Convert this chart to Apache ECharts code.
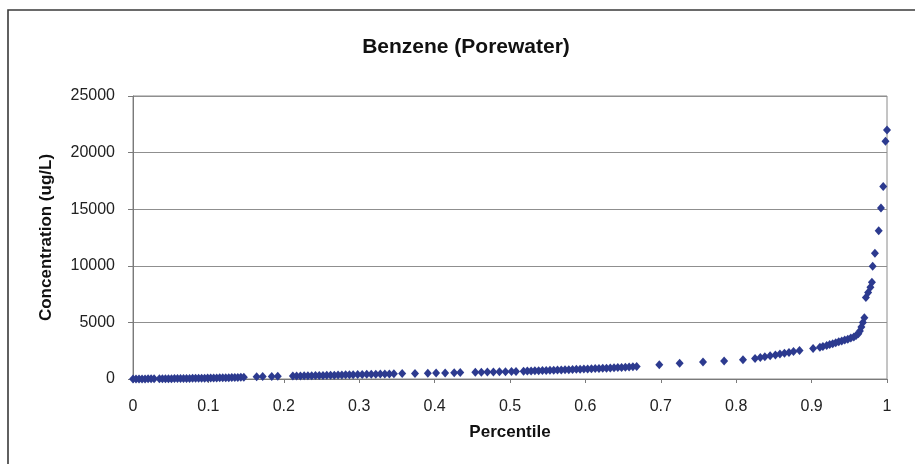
<!DOCTYPE html>
<html>
<head>
<meta charset="utf-8">
<script src="https://cdn.jsdelivr.net/npm/echarts@6/dist/echarts.min.js"></script>
<style>
  html, body { margin: 0; padding: 0; background: #ffffff; }
  #chart { width: 915px; height: 464px; }
</style>
</head>
<body>
<div id="chart"></div>
<script>
const chartTitle = "Benzene (Porewater)";
const xAxisTitle = "Percentile";
const yAxisTitle = "Concentration (ug/L)";

const percentiles = [
  0.000,0.004,0.008,0.012,0.016,0.020,0.024,0.028,0.035,0.039,0.043,0.047,0.051,0.055,0.059,0.063,0.067,0.071,0.075,0.079,0.083,0.087,0.091,0.095,0.099,0.103,0.107,0.111,0.115,0.119,0.123,0.127,0.131,0.135,0.139,0.143,0.147,
  0.164,0.172,0.184,0.192,
  0.212,0.217,0.222,0.227,0.232,0.237,0.242,0.247,0.252,0.257,0.262,0.267,0.272,0.277,0.282,0.287,0.292,
  0.298,0.304,0.310,0.316,0.322,0.328,0.334,0.340,0.346,
  0.357,0.374,
  0.391,0.402,0.414,0.426,0.434,
  0.454,0.462,0.470,0.478,0.486,0.494,0.502,0.508,
  0.518,0.523,0.528,0.533,0.538,0.543,0.548,0.553,0.558,0.563,0.568,0.573,0.578,0.583,0.588,0.593,0.598,0.603,0.608,0.613,0.618,0.623,0.628,0.633,0.638,0.643,0.648,0.653,0.658,0.663,0.668,
  0.698,0.725,0.756,0.784,0.809,
  0.825,0.832,0.838,0.845,0.852,0.858,0.864,0.870,0.876,0.884,
  0.902,
  0.911,0.915,0.920,0.924,0.928,0.932,0.936,0.940,0.944,0.948,0.952,0.956,0.959,0.962,0.964,0.966,
  0.968,0.970,0.972,0.975,0.978,0.980,0.981,0.984,0.989,0.992,0.995,0.998,1.000
];

const concentrations = [
  2,3,5,8,10,12,14,16,20,22,25,28,30,34,38,40,45,48,52,56,60,65,70,75,80,85,90,95,100,106,112,118,125,132,140,150,165,
  200,210,225,235,
  255,262,270,278,285,292,300,310,318,326,335,342,350,360,368,376,385,
  395,402,410,420,428,436,445,452,460,
  475,495,
  515,525,540,555,565,
  590,600,612,625,638,650,662,672,
  690,700,712,722,735,745,757,768,780,792,805,815,828,840,852,865,878,890,905,918,932,945,960,975,990,1005,1020,1040,1060,1085,1110,
  1250,1400,1500,1600,1700,
  1820,1900,1970,2050,2120,2200,2280,2350,2430,2520,
  2700,
  2800,2880,2960,3040,3120,3200,3280,3360,3440,3520,3620,3720,3850,4000,4250,4600,
  5000,5400,7200,7650,8100,8550,9950,11100,13100,15100,17000,21000,22000
];

const points = percentiles.map((p, i) => [p, concentrations[i]]);

const chart = echarts.init(document.getElementById('chart'), null, { renderer: 'canvas' });
const font = '"Liberation Sans", Arial, sans-serif';

chart.setOption({
  backgroundColor: '#ffffff',
  animation: false,
  title: {
    text: chartTitle,
    left: 461,
    textAlign: 'center',
    top: 32,
    textStyle: { fontFamily: font, fontSize: 21, fontWeight: 'bold', color: '#111' }
  },
  graphic: [{
    type: 'rect',
    shape: { x: 8, y: 10, width: 940, height: 480 },
    style: { fill: 'none', stroke: '#3a3a3a', lineWidth: 1.6 },
    silent: true
  }],
  grid: {
    left: 133, right: 28, top: 96, bottom: 85,
    show: true, borderColor: '#8a8a8a', borderWidth: 1, backgroundColor: 'transparent'
  },
  xAxis: {
    type: 'value',
    min: 0, max: 1, interval: 0.1,
    name: xAxisTitle,
    nameLocation: 'middle',
    nameGap: 45,
    nameTextStyle: { fontFamily: font, fontSize: 17, fontWeight: 'bold', color: '#111' },
    axisLine: { show: true, lineStyle: { color: '#7a7a7a', width: 1 } },
    axisTick: { show: true, inside: false, length: 4, lineStyle: { color: '#7a7a7a' } },
    axisLabel: { fontFamily: font, fontSize: 16, color: '#222', margin: 20,
      formatter: v => String(Math.round(v * 10) / 10) },
    splitLine: { show: false }
  },
  yAxis: {
    type: 'value',
    min: 0, max: 25000, interval: 5000,
    name: yAxisTitle,
    nameLocation: 'middle',
    nameGap: 78,
    nameTextStyle: { fontFamily: font, fontSize: 17, fontWeight: 'bold', color: '#111' },
    axisLine: { show: true, lineStyle: { color: '#7a7a7a', width: 1 } },
    axisTick: { show: true, inside: false, length: 5, lineStyle: { color: '#7a7a7a' } },
    axisLabel: { fontFamily: font, fontSize: 16, color: '#222', margin: 18,
      formatter: v => String(v) },
    splitLine: { show: true, lineStyle: { color: '#8f8f8f', width: 1 } }
  },
  series: [{
    type: 'scatter',
    data: points,
    symbol: 'diamond',
    symbolSize: [8, 9],
    itemStyle: { color: '#2c3a8f', opacity: 1 }
  }]
});
</script>
</body>
</html>
